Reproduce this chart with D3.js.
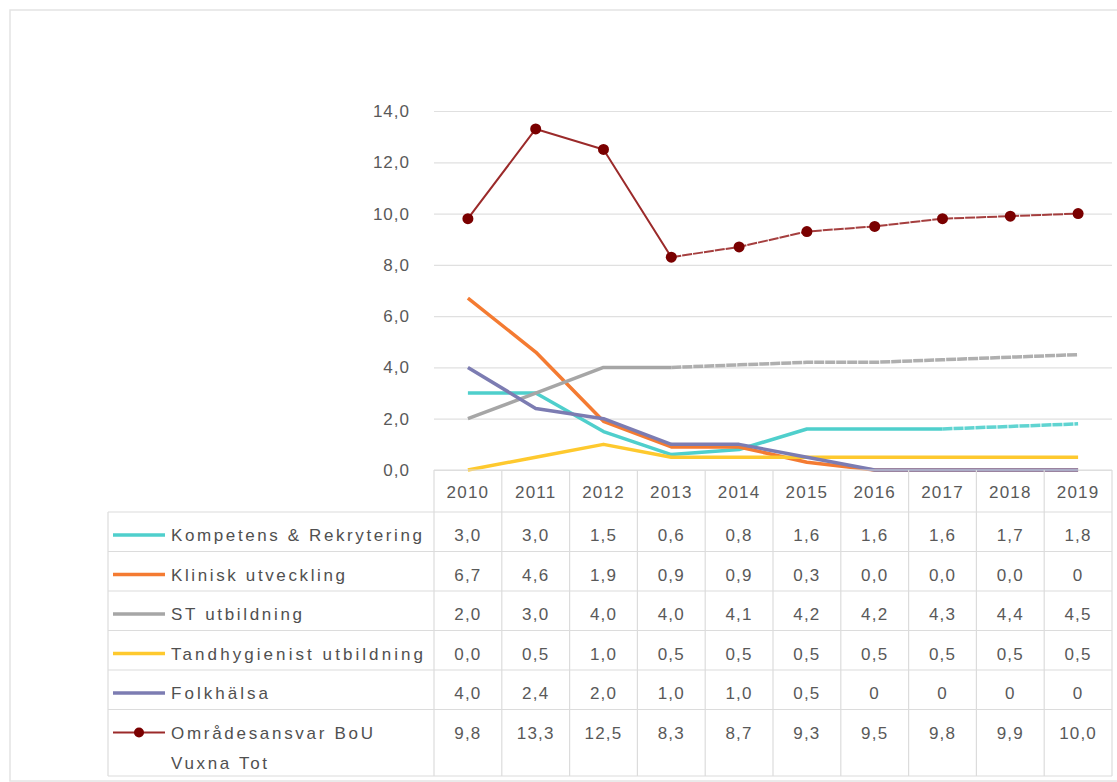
<!DOCTYPE html>
<html>
<head>
<meta charset="utf-8">
<script src="https://cdn.jsdelivr.net/npm/d3@7"></script>
<style>
  html, body { margin: 0; padding: 0; background: #fff; }
  svg { display: block; font-family: "Liberation Sans", Arial, sans-serif; }
</style>
</head>
<body>
<svg id="chart" width="1117" height="782"></svg>
<script>
// ---- data ----
const years = ["2010","2011","2012","2013","2014","2015","2016","2017","2018","2019"];
const seriesNames = ["Kompetens & Rekrytering","Klinisk utveckling","ST utbildning","Tandhygienist utbildning","Folkhälsa","Områdesansvar BoU Vuxna Tot"];
const kompetens = ["3,0","3,0","1,5","0,6","0,8","1,6","1,6","1,6","1,7","1,8"];
const klinisk   = ["6,7","4,6","1,9","0,9","0,9","0,3","0,0","0,0","0,0","0"];
const stUtb     = ["2,0","3,0","4,0","4,0","4,1","4,2","4,2","4,3","4,4","4,5"];
const tandhyg   = ["0,0","0,5","1,0","0,5","0,5","0,5","0,5","0,5","0,5","0,5"];
const folkhalsa = ["4,0","2,4","2,0","1,0","1,0","0,5","0","0","0","0"];
const omrade    = ["9,8","13,3","12,5","8,3","8,7","9,3","9,5","9,8","9,9","10,0"];
const yTicks = [0,2,4,6,8,10,12,14];

// ---- styles ----
const colors = ["#4fcfcc","#f47b32","#a6a6a6","#fec92e","#7c7cb2","#9b2a2a"];
const dashFrom = [7, null, 3, null, null, 3];
const labelWidths = [251,174,131,252,97,202];

const allSeries = [kompetens, klinisk, stUtb, tandhyg, folkhalsa, omrade];
const parse = s => +s.replace(",", ".");

const svg = d3.select("#chart");

// outer frame
svg.append("rect").attr("x",10).attr("y",10).attr("width",1130).attr("height",771)
  .attr("fill","none").attr("stroke","#e4e4e4").attr("stroke-width",1.5);

const x = d3.scaleBand().domain(years).range([434,1112]).paddingInner(0).paddingOuter(0);
const cx = d => x(d) + x.bandwidth()/2;
const y = d3.scaleLinear().domain([0,14]).range([470,111]);

// y grid + axis
const yAxis = d3.axisLeft(y).tickValues(yTicks).tickSize(-(1112-434))
  .tickFormat(d => d3.format(".1f")(d).replace(".", ","));
const ga = svg.append("g").attr("transform","translate(434,0)").call(yAxis);
ga.select(".domain").remove();
ga.selectAll(".tick line").attr("stroke","#e0e0e0").attr("stroke-width",1.2);
ga.selectAll(".tick text").attr("x",-24).attr("fill","#595959")
  .style("font-size","17px").style("letter-spacing","1px");

// lines
const line = d3.line().x(d => cx(d.year)).y(d => y(d.v));
allSeries.forEach((arr, i) => {
  const pts = arr.map((s, j) => ({year: years[j], v: parse(s)}));
  const w = i === 5 ? 2 : 3.5;
  const df = dashFrom[i];
  if (df == null) {
    svg.append("path").datum(pts).attr("d", line).attr("fill","none")
      .attr("stroke", colors[i]).attr("stroke-width", w).attr("stroke-linejoin","round");
  } else {
    svg.append("path").datum(pts.slice(0, df+1)).attr("d", line).attr("fill","none")
      .attr("stroke", colors[i]).attr("stroke-width", w).attr("stroke-linejoin","round");
    svg.append("path").datum(pts.slice(df)).attr("d", line).attr("fill","none")
      .attr("stroke", colors[i]).attr("stroke-width", w).attr("stroke-dasharray","10,1")
      .attr("stroke-opacity",0.9);
  }
  if (i === 5) {
    svg.append("g").selectAll("circle").data(pts).join("circle")
      .attr("cx", d => cx(d.year)).attr("cy", d => y(d.v)).attr("r", 5.5)
      .attr("fill","#7a0000");
  }
});

// ---- data table ----
const gridC = "#dcdcdc";
const rowTops = [512, 551.5, 591, 630.5, 670, 709.5];
const tableBottom = 776;
const tbl = svg.append("g");
tbl.append("line").attr("x1",434).attr("x2",1112).attr("y1",470).attr("y2",470)
  .attr("stroke",gridC).attr("stroke-width",1.2);
const vx = years.map(d => x(d)).concat([1112]);
tbl.selectAll("line.v").data(vx).join("line").attr("class","v")
  .attr("x1", d => d).attr("x2", d => d).attr("y1",470).attr("y2",tableBottom)
  .attr("stroke",gridC).attr("stroke-width",1.2);
tbl.append("line").attr("x1",108).attr("x2",108).attr("y1",512).attr("y2",tableBottom)
  .attr("stroke",gridC).attr("stroke-width",1.2);
tbl.selectAll("line.h").data(rowTops.concat([tableBottom])).join("line").attr("class","h")
  .attr("x1",108).attr("x2",1112).attr("y1", d => d).attr("y2", d => d)
  .attr("stroke",gridC).attr("stroke-width",1.2);

// header years
tbl.selectAll("text.yr").data(years).join("text").attr("class","yr")
  .attr("x", d => cx(d)).attr("y", 498).attr("text-anchor","middle")
  .attr("fill","#595959").style("font-size","17px").style("letter-spacing","1.2px")
  .text(d => d);

// rows
seriesNames.forEach((name, i) => {
  const top = rowTops[i];
  const base = top + 29;
  const swY = top + 23;
  tbl.append("line").attr("x1",113).attr("x2",165).attr("y1",swY).attr("y2",swY)
    .attr("stroke",colors[i]).attr("stroke-width", i === 5 ? 2 : 3.5);
  if (i === 5) {
    tbl.append("circle").attr("cx",139).attr("cy",swY).attr("r",5).attr("fill","#7a0000");
  }
  const parts = i === 5 ? ["Områdesansvar BoU","Vuxna Tot"] : [name];
  const widths = i === 5 ? [202, 96] : [labelWidths[i]];
  parts.forEach((p, k) => {
    tbl.append("text").attr("x",171).attr("y", base + k*30)
      .attr("fill","#505050").style("font-size","17px")
      .attr("textLength", widths[k]).attr("lengthAdjust","spacing")
      .text(p);
  });
  tbl.selectAll(null).data(allSeries[i]).join("text")
    .attr("x", (d, j) => cx(years[j])).attr("y", base).attr("text-anchor","middle")
    .attr("fill","#595959").style("font-size","17px").style("letter-spacing","1.2px")
    .text(d => d);
});
</script>
</body>
</html>
